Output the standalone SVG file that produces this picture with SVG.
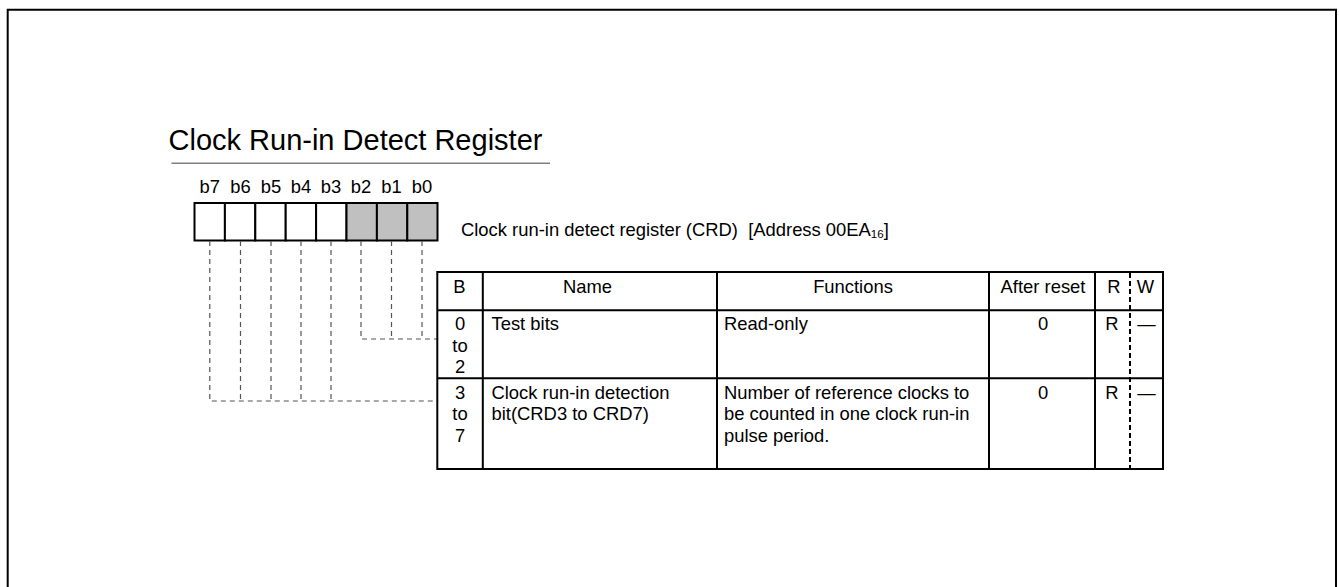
<svg xmlns="http://www.w3.org/2000/svg" width="1339" height="587" viewBox="0 0 1339 587">
<style>
text{font-family:"Liberation Sans",Arial,Helvetica,sans-serif;font-size:18.4px;fill:#000}
.c{text-anchor:middle}
.title{font-size:29px}
.cell{stroke:#000;stroke-width:2;fill:#fff}
.gray{fill:#c0c0c0}
.tl{stroke:#000;stroke-width:2;fill:none}
.conn{stroke:#555;stroke-width:1.2;fill:none;stroke-dasharray:5 4}
.rw{stroke:#000;stroke-width:2;stroke-dasharray:5 3;fill:none}
</style>
<rect width="1339" height="587" fill="#fff"/>
<path d="M7.7,587 V9.8 H1336 V587" fill="none" stroke="#000" stroke-width="2"/>

<g id="title">
<text class="title" x="168.5" y="150">Clock Run-in Detect Register</text>
<line x1="171.5" y1="163.3" x2="550" y2="163.3" stroke="#808080" stroke-width="1.5"/>
</g>

<g id="register">
<g class="c">
<text x="209.8" y="192.5">b7</text>
<text x="240.5" y="192.5">b6</text>
<text x="271" y="192.5">b5</text>
<text x="301" y="192.5">b4</text>
<text x="331" y="192.5">b3</text>
<text x="361" y="192.5">b2</text>
<text x="391.5" y="192.5">b1</text>
<text x="422" y="192.5">b0</text>
</g>
<rect class="cell" x="194.5" y="203" width="30.4" height="37.5"/>
<rect class="cell" x="224.9" y="203" width="30.4" height="37.5"/>
<rect class="cell" x="255.3" y="203" width="30.4" height="37.5"/>
<rect class="cell" x="285.7" y="203" width="30.4" height="37.5"/>
<rect class="cell" x="316.1" y="203" width="30.4" height="37.5"/>
<rect class="cell gray" x="346.5" y="203" width="30.4" height="37.5"/>
<rect class="cell gray" x="376.9" y="203" width="30.4" height="37.5"/>
<rect class="cell gray" x="407.3" y="203" width="30.2" height="37.5"/>
</g>

<g id="description">
<text x="461" y="236" xml:space="preserve">Clock run-in detect register (CRD)  [Address 00EA<tspan font-size="11.5px" dy="1.5">16</tspan><tspan dy="-1.5">]</tspan></text>
</g>

<g id="connectors">
<path class="conn" d="M361,241 V339 H437 M391.5,241 V339 M422,241 V339"/>
<path class="conn" d="M209.8,241 V401 H437 M240.5,241 V401 M271,241 V401 M301,241 V401 M331,241 V401"/>
</g>

<g id="table">
<rect class="tl" x="437.3" y="272" width="725.7" height="197"/>
<path class="tl" d="M482.8,272 V469 M717,272 V469 M989,272 V469 M1095,272 V469 M437.3,310.3 H1163 M437.3,378.3 H1163"/>
<line class="rw" x1="1130" y1="273" x2="1130" y2="468"/>
</g>

<g id="header">
<text class="c" x="459.5" y="292.5">B</text>
<text class="c" x="587.5" y="292.5">Name</text>
<text class="c" x="853" y="292.5">Functions</text>
<text class="c" x="1043" y="292.5">After reset</text>
<text class="c" x="1114" y="292.5">R</text>
<text class="c" x="1145.5" y="292.5">W</text>
</g>

<g id="row-0-2">
<text class="c" x="460" y="330">0</text>
<text class="c" x="460" y="351.5">to</text>
<text class="c" x="460" y="373">2</text>
<text x="491.5" y="330">Test bits</text>
<text x="724" y="330">Read-only</text>
<text class="c" x="1043" y="330">0</text>
<text class="c" x="1112" y="330">R</text>
<text class="c" x="1146.5" y="330">—</text>
</g>

<g id="row-3-7">
<text class="c" x="460" y="398.5">3</text>
<text class="c" x="460" y="420">to</text>
<text class="c" x="460" y="441.5">7</text>
<text x="491.5" y="398.5">Clock run-in detection</text>
<text x="491.5" y="420">bit(CRD3 to CRD7)</text>
<text x="724" y="398.5">Number of reference clocks to</text>
<text x="724" y="420">be counted in one clock run-in</text>
<text x="724" y="441.5">pulse period.</text>
<text class="c" x="1043" y="398.5">0</text>
<text class="c" x="1112" y="398.5">R</text>
<text class="c" x="1146.5" y="398.5">—</text>
</g>
</svg>
